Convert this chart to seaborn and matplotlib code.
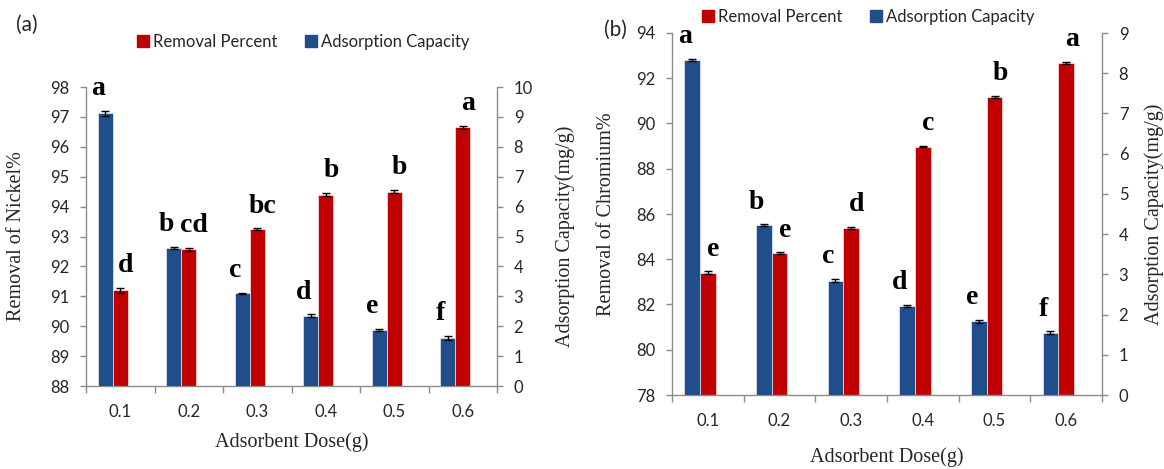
import numpy as np
import pandas as pd
import matplotlib
matplotlib.use("Agg")
import matplotlib.pyplot as plt
from matplotlib.lines import Line2D
import seaborn as sns

# ---------------- data ----------------
doses = ["0.1", "0.2", "0.3", "0.4", "0.5", "0.6"]

ni_removal = [91.2, 92.58, 93.24, 94.4, 94.5, 96.65]
ni_removal_err = [0.08, 0.05, 0.03, 0.06, 0.05, 0.06]
ni_capacity = [9.12, 4.62, 3.10, 2.35, 1.88, 1.60]
ni_capacity_err = [0.08, 0.04, 0.02, 0.05, 0.04, 0.07]
ni_removal_letters = ["d", "cd", "bc", "b", "b", "a"]
ni_capacity_letters = ["a", "b", "c", "d", "e", "f"]

cr_removal = [83.4, 84.28, 85.38, 88.98, 91.18, 92.68]
cr_removal_err = [0.06, 0.03, 0.06, 0.03, 0.05, 0.05]
cr_capacity = [8.33, 4.22, 2.84, 2.22, 1.83, 1.55]
cr_capacity_err = [0.03, 0.02, 0.04, 0.03, 0.04, 0.03]
cr_removal_letters = ["e", "e", "d", "c", "b", "a"]
cr_capacity_letters = ["a", "b", "c", "d", "e", "f"]

series_names = ["Adsorption Capacity", "Removal Percent", "_pad"]

# ---------------- style ----------------
BLUE = "#1F4E8A"
RED = "#C00000"
GRAY = "#8C8C8C"
TXT = "#262626"
SANS = ["Lato", "DejaVu Sans"]
SERIF = ["Liberation Serif", "DejaVu Serif"]

sns.set_style("white")
plt.rcParams["font.family"] = SANS

palette = {series_names[0]: BLUE, series_names[1]: RED, series_names[2]: "white"}

fig = plt.figure(figsize=(11.64, 4.69), dpi=100)
W, H = 1164, 469


def axes_box(x0, y0, x1, y1):
    return [x0 / W, 1 - y1 / H, (x1 - x0) / W, (y1 - y0) / H]


def bar_centers(a):
    pts = [p for p in a.patches if p.get_height() > 0]
    pts.sort(key=lambda p: p.get_x())
    return [p.get_x() + p.get_width() / 2 for p in pts]


def panel(box, removal, removal_err, capacity, capacity_err, rem_letters, cap_letters,
          ylim_left, yticks_left, ylim_right, yticks_right, ylabel_left, ylabel_right,
          xpad, lab_left_x, lab_right_x, xlabel_y):
    ax = fig.add_axes(box)
    ax2 = ax.twinx()

    df_r = pd.DataFrame({"Dose": doses, "value": removal, "series": series_names[1]})
    df_c = pd.DataFrame({"Dose": doses, "value": capacity, "series": series_names[0]})

    sns.barplot(data=df_r, x="Dose", y="value", hue="series", hue_order=series_names,
                order=doses, palette=palette, width=0.66, dodge=True, legend=False,
                errorbar=None, ax=ax, edgecolor="white", linewidth=0.4, saturation=1)
    sns.barplot(data=df_c, x="Dose", y="value", hue="series", hue_order=series_names,
                order=doses, palette=palette, width=0.66, dodge=True, legend=False,
                errorbar=None, ax=ax2, edgecolor="white", linewidth=0.4, saturation=1)

    xr = bar_centers(ax)
    xc = bar_centers(ax2)

    ax.errorbar(xr, removal, yerr=removal_err, fmt="none", ecolor="black",
                elinewidth=1.0, capsize=3, capthick=1.0, zorder=5)
    ax2.errorbar(xc, capacity, yerr=capacity_err, fmt="none", ecolor="black",
                 elinewidth=1.0, capsize=3, capthick=1.0, zorder=5)

    for x, v, e, t in zip(xr, removal, removal_err, rem_letters):
        ax.annotate(t, (x, v + e), xytext=(4, 7), textcoords="offset points",
                    ha="center", va="bottom", fontsize=20, fontweight="bold",
                    family=SERIF, color="black")
    for x, v, e, t in zip(xc, capacity, capacity_err, cap_letters):
        ax2.annotate(t, (x, v + e), xytext=(-5, 7), textcoords="offset points",
                     ha="center", va="bottom", fontsize=20, fontweight="bold",
                     family=SERIF, color="black")

    ax.set_ylim(*ylim_left)
    ax.set_yticks(yticks_left)
    ax2.set_ylim(*ylim_right)
    ax2.set_yticks(yticks_right)
    ax.set_xlim(-0.5, len(doses) - 0.5)

    for a in (ax, ax2):
        a.spines["top"].set_visible(False)
        for s in ("left", "right", "bottom"):
            a.spines[s].set_color(GRAY)
            a.spines[s].set_linewidth(1.0)
        a.grid(False)
    ax.spines["right"].set_visible(False)
    ax2.spines["left"].set_visible(False)
    ax2.spines["bottom"].set_visible(False)

    ax.set_xticks(np.arange(len(doses)))
    ax.set_xticklabels(doses)
    ax.set_xticks(np.arange(len(doses) + 1) - 0.5, minor=True)
    ax.tick_params(axis="x", which="major", length=0, pad=xpad, labelsize=12, labelcolor=TXT)
    ax.tick_params(axis="x", which="minor", length=5, width=1, color=GRAY, direction="out",
                   bottom=True)
    ax.tick_params(axis="y", length=4, width=1, color=GRAY, direction="out", left=True,
                   pad=8, labelsize=12, labelcolor=TXT)
    ax2.tick_params(axis="y", length=4, width=1, color=GRAY, direction="out", right=True,
                    pad=8, labelsize=12, labelcolor=TXT)

    ax.set_xlabel("Adsorbent Dose(g)", family=SERIF, fontsize=14.5, color=TXT)
    ax.xaxis.set_label_coords(0.5, xlabel_y)
    ax.set_ylabel(ylabel_left, family=SERIF, fontsize=14.5, color=TXT)
    ax.yaxis.set_label_coords(lab_left_x, 0.5)
    ax2.set_ylabel(ylabel_right, family=SERIF, fontsize=14.5, color=TXT)
    ax2.yaxis.set_label_coords(lab_right_x, 0.5)
    return ax, ax2


panel(axes_box(86, 87, 497, 386), ni_removal, ni_removal_err, ni_capacity, ni_capacity_err,
      ni_removal_letters, ni_capacity_letters,
      (88, 98), np.arange(88, 99, 1), (0, 10), np.arange(0, 11, 1),
      "Removal of Nickel%", "Adsorption Capacity(mg/g)",
      xpad=13, lab_left_x=-0.146, lab_right_x=1.141, xlabel_y=-0.154)

panel(axes_box(672, 33, 1102, 395), cr_removal, cr_removal_err, cr_capacity, cr_capacity_err,
      cr_removal_letters, cr_capacity_letters,
      (78, 94), np.arange(78, 95, 2), (0, 9), np.arange(0, 10, 1),
      "Removal of Chromium%", "Adsorption Capacity(mg/g)",
      xpad=13, lab_left_x=-0.13, lab_right_x=1.098, xlabel_y=-0.145)


def legend_at(x, y):
    handles = [Line2D([], [], marker="s", linestyle="none", markersize=8,
                      markerfacecolor=RED, markeredgecolor=RED),
               Line2D([], [], marker="s", linestyle="none", markersize=8,
                      markerfacecolor=BLUE, markeredgecolor=BLUE)]
    fig.legend(handles, [series_names[1], series_names[0]], loc="center",
               bbox_to_anchor=(x / W, 1 - y / H), ncol=2, frameon=False,
               fontsize=12, handletextpad=0.2, columnspacing=1.6, handlelength=0.8,
               labelcolor=TXT)


legend_at(303, 42)
legend_at(868, 17)

fig.text(27 / W, 1 - 25 / H, "(a)", ha="center", va="center", fontsize=15, color=TXT)
fig.text(615 / W, 1 - 30 / H, "(b)", ha="center", va="center", fontsize=15, color=TXT)

fig.savefig("out.png", dpi=100, facecolor="white")
